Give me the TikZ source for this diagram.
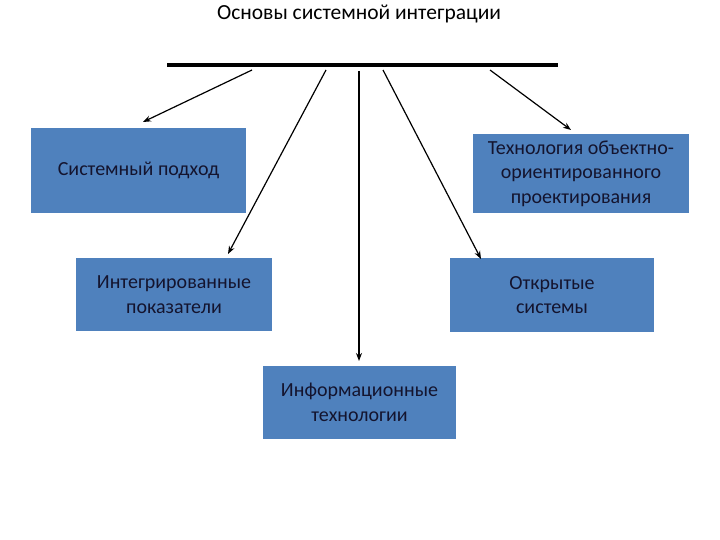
\documentclass[tikz,border=0pt]{standalone}
\usepackage{fontspec}
\setmainfont{Carlito}
\usetikzlibrary{arrows.meta}
\definecolor{boxblue}{HTML}{4F81BD}
\definecolor{boxtext}{HTML}{14142E}
\tikzset{
  box/.style={fill=boxblue, draw=none, text=boxtext, align=center, font=\fontsize{20}{24.5}\selectfont, inner sep=2pt},
  arr/.style={line width=1.2pt, -{Stealth[length=8pt,width=6pt]}},
}
\begin{document}
\begin{tikzpicture}[x=1pt,y=-1pt]
\useasboundingbox (0,0) rectangle (720,540);
\node[font=\fontsize{21.5}{26}\selectfont] (title) at (359,14) {Основы системной интеграции};
\coordinate (barL) at (167,65);
\coordinate (barR) at (558,65);
\draw[line width=4pt] (barL) -- (barR);

\node[box, minimum width=215pt, minimum height=85pt] (sys) at (138.5,170.5) {Системный подход};
\node[box, minimum width=216pt, minimum height=79pt] (tech) at (581,173.5) {Технология объектно-\\ориентированного\\проектирования};
\node[box, minimum width=196pt, minimum height=73pt] (integ) at (174,294.5) {Интегрированные\\показатели};
\node[box, minimum width=204pt, minimum height=74pt] (open) at (552,295) {Открытые\\системы};
\node[box, minimum width=193pt, minimum height=73pt] (info) at (359.5,402.5) {Информационные\\технологии};

\coordinate (s1) at (252,70);
\coordinate (s2) at (326,70);
\coordinate (s3) at (359,71);
\coordinate (s4) at (383,70);
\coordinate (s5) at (490,70);
\coordinate (e1) at (143,122);
\coordinate (e2) at (228,254);
\coordinate (e3) at (359,361);
\coordinate (e4) at (481,259);
\coordinate (e5) at (571,130);
\draw[arr] (s1) -- (e1);
\draw[arr] (s2) -- (e2);
\draw[arr] (s3) -- (e3);
\draw[arr] (s4) -- (e4);
\draw[arr] (s5) -- (e5);
\end{tikzpicture}
\end{document}
